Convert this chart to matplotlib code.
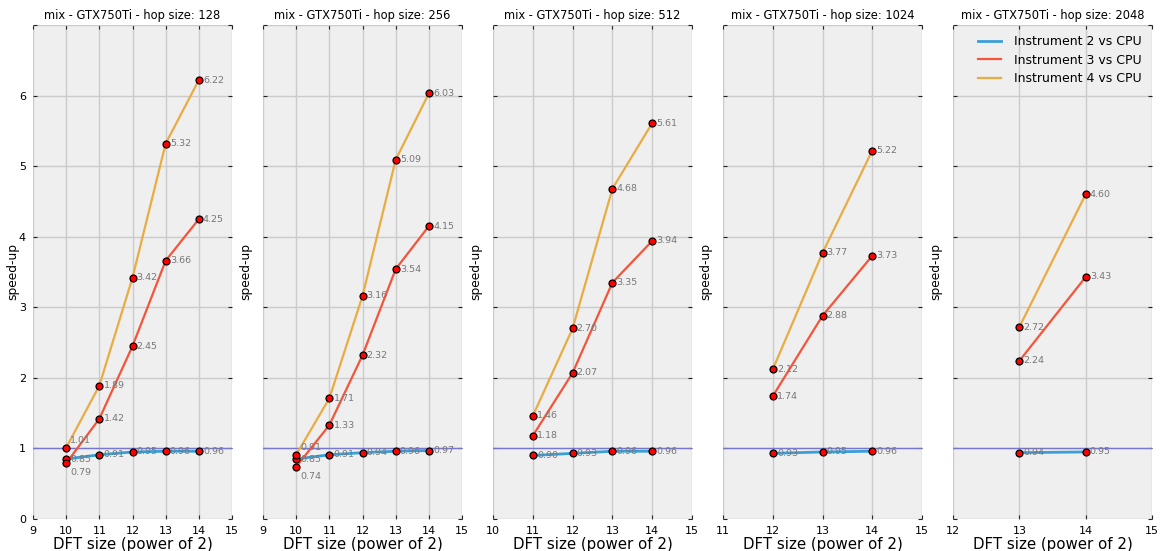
import matplotlib
matplotlib.use("Agg")
import matplotlib.pyplot as plt

hop_sizes = [128, 256, 512, 1024, 2048]

dft_128 = [10, 11, 12, 13, 14]
inst2_128 = [0.85, 0.91, 0.95, 0.96, 0.96]
inst3_128 = [0.79, 1.42, 2.45, 3.66, 4.25]
inst4_128 = [1.01, 1.89, 3.42, 5.32, 6.22]

dft_256 = [10, 11, 12, 13, 14]
inst2_256 = [0.85, 0.91, 0.94, 0.96, 0.97]
inst3_256 = [0.74, 1.33, 2.32, 3.54, 4.15]
inst4_256 = [0.91, 1.71, 3.16, 5.09, 6.03]

dft_512 = [11, 12, 13, 14]
inst2_512 = [0.90, 0.93, 0.96, 0.96]
inst3_512 = [1.18, 2.07, 3.35, 3.94]
inst4_512 = [1.46, 2.70, 4.68, 5.61]

dft_1024 = [12, 13, 14]
inst2_1024 = [0.93, 0.95, 0.96]
inst3_1024 = [1.74, 2.88, 3.73]
inst4_1024 = [2.12, 3.77, 5.22]

dft_2048 = [13, 14]
inst2_2048 = [0.94, 0.95]
inst3_2048 = [2.24, 3.43]
inst4_2048 = [2.72, 4.60]

x_min = [9, 9, 10, 11, 12]

panels = [
    (dft_128, inst2_128, inst3_128, inst4_128),
    (dft_256, inst2_256, inst3_256, inst4_256),
    (dft_512, inst2_512, inst3_512, inst4_512),
    (dft_1024, inst2_1024, inst3_1024, inst4_1024),
    (dft_2048, inst2_2048, inst3_2048, inst4_2048),
]

series_names = ["Instrument 2 vs CPU", "Instrument 3 vs CPU", "Instrument 4 vs CPU"]
series_colors = ["#3a9fd8", "#f4553a", "#e8ac42"]
series_widths = [2.0, 1.6, 1.6]

# vertical nudges (points) for crowded value labels: (panel, series, point) -> dy
label_nudge = {(0, 2, 0): 5, (0, 1, 0): -7, (1, 2, 0): 5, (1, 1, 0): -7}

fig = plt.figure(figsize=(11.61, 5.51), dpi=100, facecolor="white")

left0 = 33 / 1161
width = 199 / 1161
step = 230 / 1161
bottom = 1 - 519 / 551
height = (519 - 25) / 551

for i, (hop, (dft, s2, s3, s4)) in enumerate(zip(hop_sizes, panels)):
    ax = fig.add_axes([left0 + i * step, bottom, width, height])
    ax.set_facecolor("#efefef")
    for sp in ax.spines.values():
        sp.set_visible(False)
    ax.set_xlim(x_min[i], 15)
    ax.set_ylim(0, 7)
    ax.set_xticks(range(x_min[i], 16))
    ax.set_yticks(range(0, 8))
    ax.grid(True, color="#cbcbcb", linewidth=1.0)
    ax.set_axisbelow(True)
    ax.tick_params(direction="in", length=3, width=0.8, color="#222222",
                   top=True, right=True, labelsize=8, pad=5)
    if i == 0:
        ax.set_yticklabels(["0", "1", "2", "3", "4", "5", "6", ""])
    else:
        ax.set_yticklabels([])
    ax.axhline(1.0, color="#7777cc", linewidth=1.0, zorder=2)
    for k, (vals, name, col, lw) in enumerate(zip((s2, s3, s4), series_names,
                                                  series_colors, series_widths)):
        ax.plot(dft, vals, color=col, linewidth=lw, label=name, zorder=3)
        ax.plot(dft, vals, linestyle="none", marker="o", markersize=5,
                markerfacecolor="#ff0000", markeredgecolor="black",
                markeredgewidth=0.9, zorder=4)
        for j, (x, v) in enumerate(zip(dft, vals)):
            dy = label_nudge.get((i, k, j), 0)
            ax.annotate(f"{v:.2f}", (x, v), xytext=(3, dy), textcoords="offset points",
                        fontsize=6.8, color="#777777", va="center", zorder=5)
    ax.set_title(f"mix - GTX750Ti - hop size: {hop}", fontsize=8.3, pad=4)
    ax.set_xlabel("DFT size (power of 2)", fontsize=10.8, labelpad=1)
    ax.set_ylabel("speed-up", fontsize=8.8, labelpad=0 if i == 0 else 3)
    if i == len(hop_sizes) - 1:
        ax.legend(loc="upper right", frameon=False, fontsize=9,
                  handlelength=1.8, handletextpad=1.1,
                  borderaxespad=0.4, labelspacing=0.45)

fig.savefig("out.png", dpi=100, facecolor="white")
